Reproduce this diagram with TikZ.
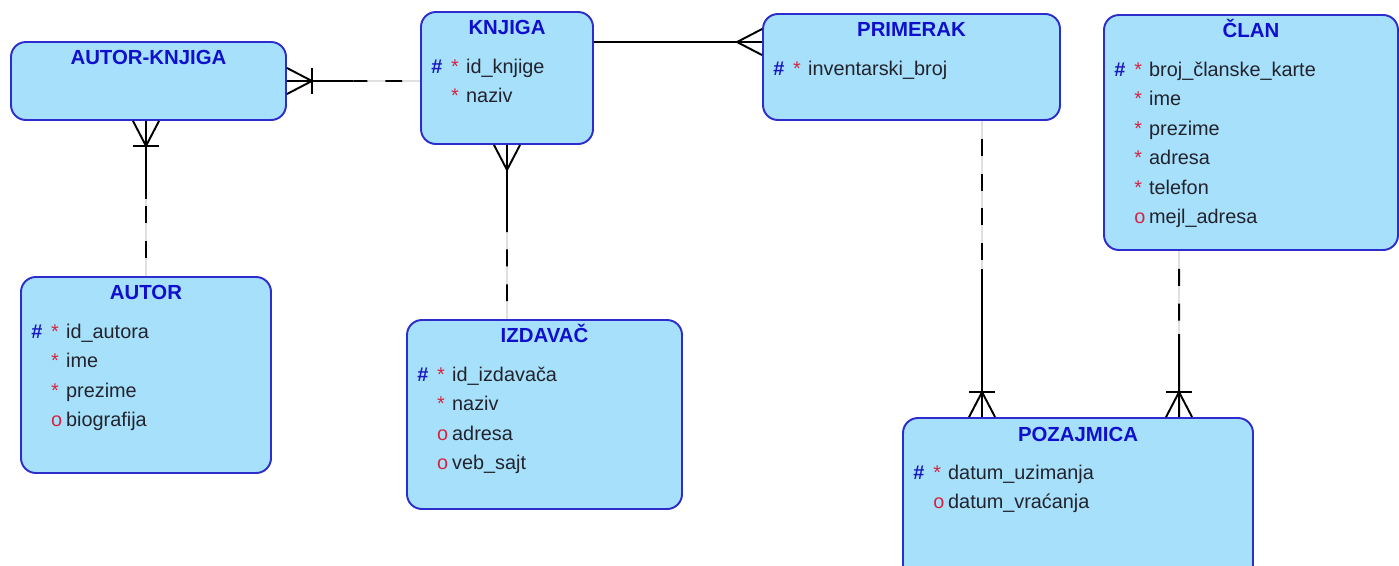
\documentclass[tikz,border=0pt]{standalone}
\usepackage{fontspec}
\setmainfont{Liberation Sans}
\usetikzlibrary{positioning,calc,fit}
\definecolor{EntFill}{RGB}{166,224,250}
\definecolor{EntLine}{RGB}{45,45,205}
\definecolor{TitleBlue}{RGB}{15,15,205}
\definecolor{KeyBlue}{RGB}{25,25,190}
\definecolor{MarkRed}{RGB}{215,35,65}
\definecolor{AttrText}{RGB}{35,35,45}
\newcommand{\pk}{\makebox[11.3pt][l]{\textcolor{KeyBlue}{\bfseries\#}}}
\newcommand{\nokey}{\hspace*{11.3pt}}
\newcommand{\req}{\makebox[8.5pt][l]{\textcolor{MarkRed}{*}}}
\newcommand{\opt}{\makebox[8.5pt][l]{\textcolor{MarkRed}{o}}}
\newcommand{\attrlist}[1]{\begin{tabular}[t]{@{}l@{}}#1\end{tabular}}
\tikzset{entity/.style={draw=EntLine,fill=EntFill,line width=1.1pt,rounded corners=8.5pt,inner sep=0pt}, etitle/.style={font=\fontsize{11.6}{14}\selectfont\bfseries,text=TitleBlue,inner sep=0pt,anchor=base}, attrs/.style={font=\fontsize{11.3}{16.8}\selectfont,text=AttrText,inner sep=0pt,anchor=base west}, rel/.style={line width=1.1pt,black}, optrel/.style={rel,dash pattern=on 9.6pt off 10.2pt,dash phase=9.6pt}, ghost/.style={line width=1.3pt,black!12}, crow/.pic={\draw[rel] (0,-13) -- (25,0) -- (0,13);}, crowbar/.pic={\draw[rel] (0,-13) -- (25,0) -- (0,13); \draw[rel] (25,-13) -- (25,13);}}

\begin{document}
\begin{tikzpicture}[x=0.02cm,y=-0.02cm]
\useasboundingbox (0,0) rectangle (1399,565);
% entities
\node[entity,fit={(11,42) (286,120)}] (autorknjiga) {};
\node[entity,fit={(421,12) (593,144)}] (knjiga) {};
\node[entity,fit={(763,14) (1060,120)}] (primerak) {};
\node[entity,fit={(1104,15) (1398,250)}] (clan) {};
\node[entity,fit={(21,277) (271,473)}] (autor) {};
\node[entity,fit={(407,320) (682,509)}] (izdavac) {};
\node[entity,fit={(903,418) (1253,600)}] (pozajmica) {};
% AUTOR-KNJIGA -- KNJIGA
\coordinate (ak) at (knjiga.west |- autorknjiga.east);
\coordinate (m1) at ($(autorknjiga.east)!0.5!(ak)$);
\draw[ghost] (autorknjiga.east) -- (ak);
\draw[rel] (autorknjiga.east) -- (m1);
\draw[optrel] (ak) -- (m1);
\pic at (autorknjiga.east) {crowbar};
% AUTOR-KNJIGA -- AUTOR
\coordinate (aa) at (autorknjiga.south -| autor.north);
\coordinate (m2) at ($(aa)!0.5!(autor.north)$);
\draw[ghost] (aa) -- (autor.north);
\draw[rel] (aa) -- (m2);
\draw[optrel] (autor.north) -- (m2);
\pic[rotate=-90] at (aa) {crowbar};
% KNJIGA -- PRIMERAK
\coordinate (kp) at ($(knjiga.north east)+(0,31)$);
\coordinate (pk) at (primerak.west |- kp);
\draw[rel] (kp) -- (pk);
\pic[rotate=180] at (pk) {crow};
% KNJIGA -- IZDAVAC
\coordinate (ki) at (knjiga.south |- izdavac.north);
\coordinate (m3) at ($(knjiga.south)!0.5!(ki)$);
\draw[ghost] (knjiga.south) -- (ki);
\draw[rel] (knjiga.south) -- (m3);
\draw[optrel] (ki) -- (m3);
\pic[rotate=-90] at (knjiga.south) {crow};
% PRIMERAK -- POZAJMICA
\coordinate (pp) at ($(primerak.south west)+(220,0)$);
\coordinate (pz) at (pp |- pozajmica.north);
\coordinate (m4) at ($(pp)!0.5!(pz)$);
\draw[ghost] (pp) -- (pz);
\draw[optrel] (pp) -- (m4);
\draw[rel] (m4) -- (pz);
\pic[rotate=90] at (pz) {crowbar};
% CLAN -- POZAJMICA
\coordinate (cc) at ($(clan.south west)+(76,0)$);
\coordinate (cz) at (cc |- pozajmica.north);
\coordinate (m5) at ($(cc)!0.5!(cz)$);
\draw[ghost] (cc) -- (cz);
\draw[optrel] (cc) -- (m5);
\draw[rel] (m5) -- (cz);
\pic[rotate=90] at (cz) {crowbar};
% titles
\node[etitle] (autorknjigaT) at ($(autorknjiga.north)+(0,23)$) {AUTOR-KNJIGA};
\node[etitle] (knjigaT) at ($(knjiga.north)+(0,23)$) {KNJIGA};
\node[etitle] (primerakT) at ($(primerak.north)+(0,23)$) {PRIMERAK};
\node[etitle] (clanT) at ($(clan.north)+(0,23)$) {ČLAN};
\node[etitle] (autorT) at ($(autor.north)+(0,23)$) {AUTOR};
\node[etitle] (izdavacT) at ($(izdavac.north)+(0,23)$) {IZDAVAČ};
\node[etitle] (pozajmicaT) at ($(pozajmica.north)+(0,24)$) {POZAJMICA};
% attributes
\node[attrs] (knjigaA) at ($(knjiga.north west)+(11,62)$) {\attrlist{\pk\req id\_knjige\\ \nokey\req naziv}};
\node[attrs] (primerakA) at ($(primerak.north west)+(11,62)$) {\attrlist{\pk\req inventarski\_broj}};
\node[attrs] (clanA) at ($(clan.north west)+(11,62)$) {\attrlist{\pk\req broj\_članske\_karte\\ \nokey\req ime\\ \nokey\req prezime\\ \nokey\req adresa\\ \nokey\req telefon\\ \nokey\opt mejl\_adresa}};
\node[attrs] (autorA) at ($(autor.north west)+(11,62)$) {\attrlist{\pk\req id\_autora\\ \nokey\req ime\\ \nokey\req prezime\\ \nokey\opt biografija}};
\node[attrs] (izdavacA) at ($(izdavac.north west)+(11,62)$) {\attrlist{\pk\req id\_izdavača\\ \nokey\req naziv\\ \nokey\opt adresa\\ \nokey\opt veb\_sajt}};
\node[attrs] (pozajmicaA) at ($(pozajmica.north west)+(11,62)$) {\attrlist{\pk\req datum\_uzimanja\\ \nokey\opt datum\_vraćanja}};
\end{tikzpicture}
\end{document}
